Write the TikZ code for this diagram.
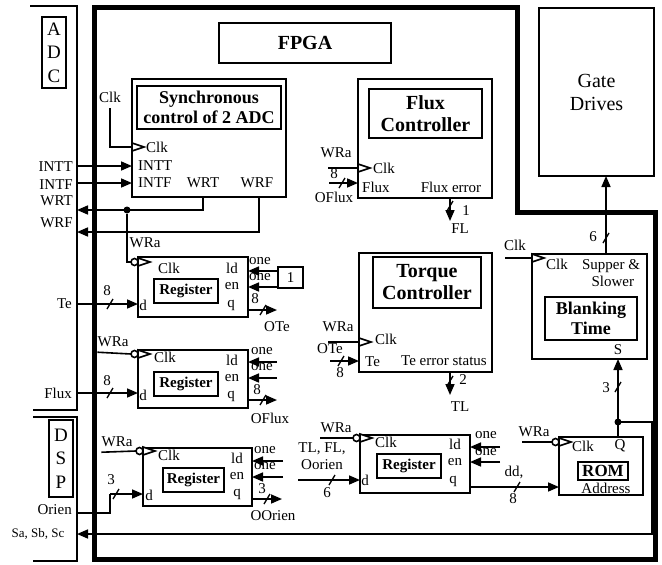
\documentclass[tikz,border=0pt]{standalone}
\usepackage{fontspec}
\setmainfont{Liberation Serif}
\usetikzlibrary{arrows.meta, calc}
\tikzstyle{box} = [draw, line width=1.5pt, inner sep=0pt, outer sep=0pt, anchor=north west]
\tikzstyle{title} = [box, align=center, font=\fontsize{20}{22}\selectfont\bfseries]
\tikzstyle{regname} = [box, font=\fontsize{15}{16}\selectfont\bfseries, minimum width=64pt, minimum height=24pt]
\tikzstyle{reg} = [box, minimum width=110pt, minimum height=58pt]
\tikzstyle{letters} = [align=center, font=\fontsize{19}{23.5}\selectfont]
\tikzstyle{lbl} = [inner sep=0pt, font=\fontsize{15}{17}\selectfont]
\tikzstyle{wire} = [line width=1.6pt]
\tikzstyle{arrow} = [wire, -{Triangle[length=11pt, width=9pt]}]
\tikzstyle{dot} = [circle, fill, inner sep=0pt, minimum size=7pt]
\tikzset{busmark/.pic={\draw[line width=1.3pt] (-3,5) -- (3,-5);}}
% clock inputs
\newcommand{\clkin}[1]{\draw[wire, fill=white] (#1) ++(0,-4) -- ++(12,4) -- ++(-12,4) -- cycle;}
\newcommand{\clkbub}[1]{\draw[wire, fill=white] (#1) ++(-3.5,0) circle (3.5pt); \clkin{#1}}

\begin{document}
\begin{tikzpicture}[x=1pt, y=-1pt]
    \useasboundingbox (0,0) rectangle (662,565);

    % ADC and DSP
    \draw[wire] (30,6) -| (77,410) -- (33,410);
    \draw[wire] (33,417) -| (77,561) -- (33,561);
    \coordinate (bus) at (77,0);
    \node[box, letters, minimum width=24pt, minimum height=71pt] (adc) at (42,17) {A\\D\\C};
    \node[box, letters, minimum width=24pt, minimum height=77pt] (dsp) at (49,420) {D\\S\\P};

    % FPGA
    \draw[line width=5pt] (94,7) -- (517,7) -- (517,212) -- (655,212) -- (655,559) -- (94,559) -- cycle;
    \node[title, minimum width=172pt, minimum height=40pt] (fpga) at (219,23) {FPGA};
    \node[box, letters, font=\fontsize{20}{23}\selectfont, minimum width=115pt, minimum height=168pt] (gate) at (539,8) {Gate\\Drives};

    % Synchronous control of 2 ADC
    \node[box, minimum width=154pt, minimum height=118pt] (sync) at (132,79) {};
    \node[title, font=\fontsize{18}{20}\selectfont\bfseries, minimum width=144pt, minimum height=43pt] (syncT) at (137,86) {Synchronous\\control of 2 ADC};
    \node[lbl] (syncClkL) at (110,97) {Clk};
    \node[lbl, anchor=west] (syncClk) at (146,147) {Clk};
    \node[lbl, anchor=west] (syncINTT) at (138,166) {INTT};
    \node[lbl, anchor=west] (syncINTF) at (138,183) {INTF};
    \node[lbl] (syncWRT) at (203,183) {WRT};
    \node[lbl] (syncWRF) at (257,183) {WRF};
    \draw[wire] (syncClkL.south) ++(0,6) |- (sync.west |- syncClk);
    \clkin{sync.west |- syncClk}

    \node[lbl, anchor=east] (adcINTT) at (73,167) {INTT};
    \node[lbl, anchor=east] (adcINTF) at (73,185) {INTF};
    \node[lbl, anchor=east] (adcWRT) at (73,201) {WRT};
    \node[lbl, anchor=east] (adcWRF) at (73,223) {WRF};
    \draw[arrow] (bus |- syncINTT) -- (sync.west |- syncINTT);
    \draw[arrow] (bus |- syncINTF) -- (sync.west |- syncINTF);
    \coordinate (wra) at (127,210);
    \coordinate (wrf) at (259,232);
    \draw[arrow] (syncWRT |- sync.south) |- (bus |- wra);
    \draw[arrow] (wrf |- sync.south) |- (bus |- wrf);
    \node[dot] (wraDot) at (wra) {};

    % Register Te
    \node[reg, minimum height=60pt] (regTe) at (138,257) {};
    \node[regname] (regTeN) at (154,279) {Register};
    \node[lbl] (regTeClk) at (169,268) {Clk};
    \node[lbl] (regTeLd) at (232,268) {ld};
    \node[lbl] (regTeEn) at (232,286) {en};
    \node[lbl] (regTeQ) at (231,305) {q};
    \node[lbl] (regTeD) at (143,305) {d};
    \node[lbl] (regTeWRa) at (145,243) {WRa};
    \draw[wire] (wraDot) |- ($(regTe.north west)+(-7,5)$);
    \clkbub{$(regTe.north west)+(0,5)$}
    \node[lbl, anchor=east] (lTe) at (72,304) {Te};
    \draw[arrow] (bus |- lTe) -- (regTe.west |- lTe);
    \pic at (110,304) {busmark};
    \node[lbl] (regTeW) at (107,291) {8};
    \node[box, lbl, minimum width=25pt, minimum height=21pt] (oneBox) at (278,267) {1};
    \node[lbl] (regTeOne1) at (260,261) {one};
    \node[lbl] (regTeOne2) at (260,277) {one};
    \coordinate (regTeL) at (248,271);
    \coordinate (regTeE) at (248,287);
    \draw[arrow] (oneBox.west |- regTeL) -- (regTeL);
    \draw[arrow] (oneBox.west |- regTeE) -- (regTeE);
    \coordinate (oTe) at (277,310);
    \draw[arrow] (regTe.east |- oTe) -- (oTe);
    \pic at (263,310) {busmark};
    \node[lbl] (oTeW) at (255,299) {8};
    \node[lbl] (oTeL) at (277,327) {OTe};

    % Register Flux
    \node[reg] (regFl) at (138,350) {};
    \node[regname] (regFlN) at (154,372) {Register};
    \node[lbl] (regFlClk) at (165,357) {Clk};
    \node[lbl] (regFlLd) at (232,360) {ld};
    \node[lbl] (regFlEn) at (232,378) {en};
    \node[lbl] (regFlQ) at (231,396) {q};
    \node[lbl] (regFlD) at (143,395) {d};
    \node[lbl] (regFlWRa) at (113,342) {WRa};
    \draw[wire] (regFlWRa.south west) ++(0,5) -- ($(regFl.north west)+(-7,4)$);
    \clkbub{$(regFl.north west)+(0,4)$}
    \node[lbl, anchor=east] (lFlux) at (72,393) {Flux};
    \draw[arrow] (bus |- lFlux) -- (regFl.west |- lFlux);
    \pic at (110,393) {busmark};
    \node[lbl] (regFlW) at (107,381) {8};
    \node[lbl] (regFlOne1) at (262,351) {one};
    \node[lbl] (regFlOne2) at (262,367) {one};
    \coordinate (regFlL) at (248,362);
    \coordinate (regFlE) at (248,378);
    \draw[arrow] ($(regFlL)+(29,0)$) -- (regFlL);
    \draw[arrow] ($(regFlE)+(29,0)$) -- (regFlE);
    \coordinate (oFl) at (277,400);
    \draw[arrow] (regFl.east |- oFl) -- (oFl);
    \pic at (263,400) {busmark};
    \node[lbl] (oFlW) at (257,390) {8};
    \node[lbl] (oFlL) at (270,418) {OFlux};

    % Register Orien
    \node[reg, minimum width=109pt] (regOr) at (143,448) {};
    \node[regname, minimum width=61pt] (regOrN) at (163,468) {Register};
    \node[lbl] (regOrClk) at (169,455) {Clk};
    \node[lbl] (regOrLd) at (237,458) {ld};
    \node[lbl] (regOrEn) at (237,476) {en};
    \node[lbl] (regOrQ) at (237,494) {q};
    \node[lbl] (regOrD) at (149,495) {d};
    \node[lbl] (regOrWRa) at (117,442) {WRa};
    \draw[wire] (regOrWRa.south west) ++(0,5) -- ($(regOr.north west)+(-7,3)$);
    \clkbub{$(regOr.north west)+(0,3)$}
    \node[lbl, anchor=east] (lOrien) at (72,510) {Orien};
    \coordinate (orIn) at (110,494);
    \draw[wire] (bus |- 0,513) -| (orIn);
    \draw[arrow] (orIn) -- (regOr.west |- orIn);
    \pic at (116,494) {busmark};
    \node[lbl] (regOrW) at (111,480) {3};
    \node[lbl] (regOrOne1) at (265,450) {one};
    \node[lbl] (regOrOne2) at (265,466) {one};
    \coordinate (regOrL) at (252,461);
    \coordinate (regOrE) at (252,477);
    \draw[arrow] ($(regOrL)+(31,0)$) -- (regOrL);
    \draw[arrow] ($(regOrE)+(31,0)$) -- (regOrE);
    \coordinate (oOr) at (282,499);
    \draw[arrow] (regOr.east |- oOr) -- (oOr);
    \pic at (267,499) {busmark};
    \node[lbl] (oOrW) at (262,489) {3};
    \node[lbl] (oOrL) at (273,516) {OOrien};

    % Flux Controller
    \node[box, minimum width=134pt, minimum height=119pt] (fluxC) at (358,79) {};
    \node[title, minimum width=113pt, minimum height=49pt] (fluxT) at (369,89) {Flux\\Controller};
    \node[lbl, anchor=west] (fluxClk) at (373,168) {Clk};
    \node[lbl, anchor=west] (fluxIn) at (362,187) {Flux};
    \node[lbl] (fluxErr) at (451,187) {Flux error};
    \node[lbl] (fluxWRa) at (336,153) {WRa};
    \draw[wire] (328,168) -- (fluxC.west |- fluxClk);
    \clkin{fluxC.west |- fluxClk}
    \coordinate (fluxD) at (358,183);
    \draw[arrow] ($(fluxD)+(-29,0)$) -- (fluxD);
    \pic at (342,183) {busmark};
    \node[lbl] (fluxW) at (334,174) {8};
    \node[lbl] (fluxOFl) at (334,197) {OFlux};
    \coordinate (FLout) at (450,221);
    \draw[arrow] (FLout |- fluxC.south) -- (FLout);
    \pic at (450,206) {busmark};
    \node[lbl] (FLw) at (466,211) {1};
    \node[lbl] (FLl) at (460,229) {FL};

    % Torque Controller
    \node[box, minimum width=133pt, minimum height=119pt] (torqC) at (359,253) {};
    \node[title, minimum width=108pt, minimum height=51pt] (torqT) at (373,257) {Torque\\Controller};
    \node[lbl, anchor=west] (torqClk) at (375,339) {Clk};
    \node[lbl, anchor=west] (torqIn) at (365,362) {Te};
    \node[lbl] (torqErr) at (444,361) {Te error status};
    \node[lbl] (torqWRa) at (338,327) {WRa};
    \coordinate (torqCk) at (359,342);
    \draw[wire] ($(torqCk)+(-31,0)$) -- (torqCk);
    \clkin{torqCk}
    \coordinate (torqD) at (359,361);
    \draw[arrow] ($(torqD)+(-29,0)$) -- (torqD);
    \pic at (341,361) {busmark};
    \node[lbl] (torqOTe) at (330,349) {OTe};
    \node[lbl] (torqW) at (340,373) {8};
    \coordinate (TLout) at (450,395);
    \draw[arrow] (TLout |- torqC.south) -- (TLout);
    \pic at (450,381) {busmark};
    \node[lbl] (TLw) at (463,380) {2};
    \node[lbl] (TLl) at (460,407) {TL};

    % Register (TL, FL, Oorien)
    \node[reg] (regM) at (360,435) {};
    \node[regname] (regMN) at (377,454) {Register};
    \node[lbl] (regMClk) at (386,442) {Clk};
    \node[lbl] (regMLd) at (455,444) {ld};
    \node[lbl] (regMEn) at (455,462) {en};
    \node[lbl] (regMQ) at (453,481) {q};
    \node[lbl] (regMD) at (365,480) {d};
    \node[lbl] (regMWRa) at (336,428) {WRa};
    \draw[wire] (320,438) -- ($(regM.north west)+(-7,3)$);
    \clkbub{$(regM.north west)+(0,3)$}
    \node[lbl, align=center] (regMIn) at (322,456) {TL, FL,\\Oorien};
    \coordinate (regMd) at (360,480);
    \draw[arrow] ($(regMd)+(-62,0)$) -- (regMd);
    \pic at (332,480) {busmark};
    \node[lbl] (regMW) at (327,493) {6};
    \node[lbl] (regMOne1) at (486,435) {one};
    \node[lbl] (regMOne2) at (486,452) {one};
    \coordinate (regML) at (470,447);
    \coordinate (regME) at (470,462);
    \draw[arrow] ($(regML)+(30,0)$) -- (regML);
    \draw[arrow] ($(regME)+(30,0)$) -- (regME);

    % ROM
    \node[box, minimum width=84pt, minimum height=58pt] (rom) at (559,437) {};
    \node[box, font=\fontsize{17}{18}\selectfont\bfseries, minimum width=50pt, minimum height=18pt] (romN) at (578,462) {ROM};
    \node[lbl, anchor=west] (romClk) at (572,446) {Clk};
    \node[lbl] (romQ) at (620,446) {Q};
    \node[lbl] (romAddr) at (606,488) {Address};
    \node[lbl] (romWRa) at (534,432) {WRa};
    \draw[wire] (522,442) -- ($(rom.north west)+(-7,5)$);
    \clkbub{$(rom.north west)+(0,5)$}
    \draw[arrow] (regM.east |- 0,487) -- (rom.west |- 0,487);
    \pic at (517,487) {busmark};
    \node[lbl] (romDd) at (514,472) {dd,};
    \node[lbl] (romW) at (513,499) {8};

    % Blanking Time
    \node[box, minimum width=115pt, minimum height=105pt] (blank) at (532,254) {};
    \node[title, font=\fontsize{18}{20}\selectfont\bfseries, minimum width=92pt, minimum height=43pt] (blankT) at (545,297) {Blanking\\Time};
    \node[lbl, anchor=west] (blankClk) at (546,264) {Clk};
    \node[lbl, align=center] (blankSS) at (611,273) {Supper \&\\\ Slower};
    \node[lbl] (blankS) at (618,350) {S};
    \node[lbl] (blankClkL) at (515,245) {Clk};
    \coordinate (blankCk) at (532,258);
    \draw[wire] ($(blankCk)+(-27,0)$) -- (blankCk);
    \clkin{blankCk}
    \coordinate (blankOut) at (606,254);
    \draw[arrow] (blankOut) -- (blankOut |- gate.south);
    \pic at (606,238) {busmark};
    \node[lbl] (blankW) at (593,237) {6};

    % Switching states
    \coordinate (sJ) at (618,422);
    \node[lbl, font=\fontsize{13}{15}\selectfont] (lSa) at (38,534) {Sa, Sb, Sc};
    \draw[arrow] (sJ) -- (blank.south -| sJ);
    \draw[wire] (sJ) -- (rom.north -| sJ);
    \draw[arrow] (sJ) -- (652,422) -- (652,534) -- (bus |- lSa);
    \node[dot] (sDot) at (sJ) {};
    \pic at (618,387) {busmark};
    \node[lbl] (sW) at (606,388) {3};
\end{tikzpicture}
\end{document}
